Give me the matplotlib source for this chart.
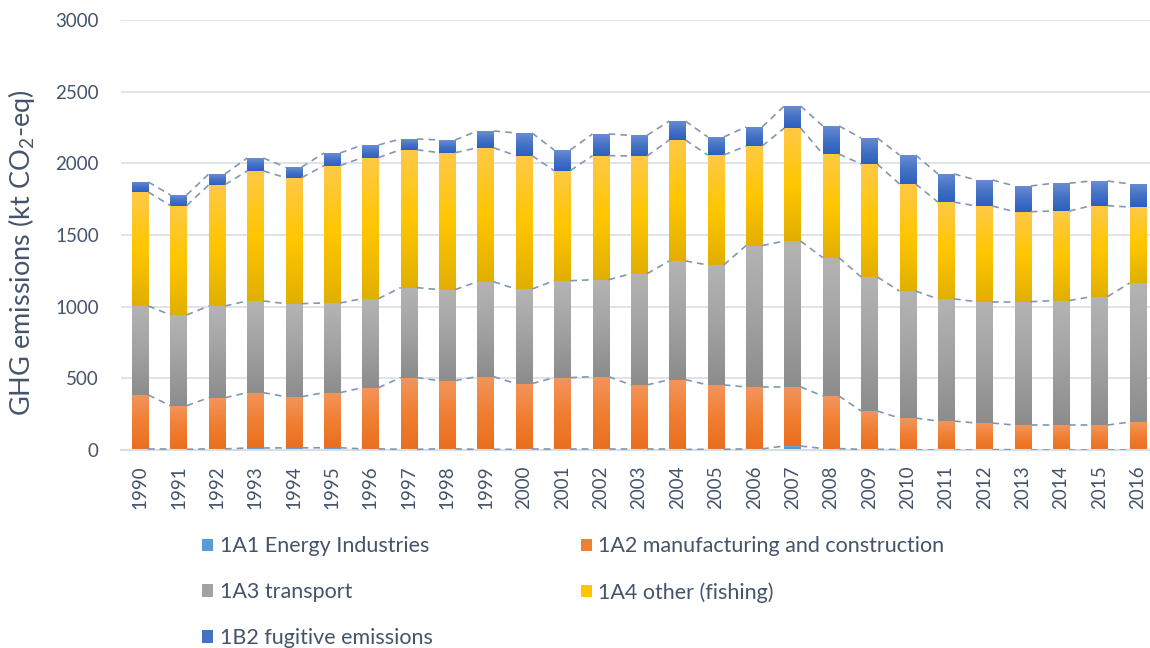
import matplotlib
matplotlib.use("Agg")
import matplotlib.pyplot as plt
from matplotlib.colors import LinearSegmentedColormap
import numpy as np

plt.rcParams['font.family'] = ['Lato', 'DejaVu Sans']
plt.rcParams['mathtext.fontset'] = 'custom'
plt.rcParams['mathtext.rm'] = 'Lato'

years = [str(y) for y in range(1990, 2017)]

energy_ind = [5, 5, 8, 14, 15, 16, 8, 5, 8, 5, 4, 4, 4, 4, 4, 5, 8, 28, 10, 5, 3, 3, 3, 2, 2, 2, 2]
manuf_constr = [379, 304, 357, 386, 357, 384, 427, 500, 476, 507, 459, 501, 508, 450, 487, 449,
                432, 412, 367, 267, 220, 199, 185, 172, 172, 172, 193]
transport = [621, 633, 640, 640, 649, 626, 621, 628, 635, 662, 660, 676, 676, 776, 828, 837,
             986, 1018, 965, 935, 886, 852, 847, 861, 868, 896, 970]
fishing = [795, 763, 846, 907, 879, 958, 984, 962, 955, 935, 931, 768, 866, 821, 844, 767,
           695, 789, 723, 788, 747, 676, 667, 628, 625, 635, 530]
fugitive = [70, 74, 75, 90, 74, 88, 88, 75, 89, 117, 158, 144, 151, 144, 132, 126,
            133, 153, 196, 182, 202, 196, 182, 179, 194, 172, 161]

labels = ['1A1 Energy Industries', '1A2 manufacturing and construction', '1A3 transport',
          '1A4 other (fishing)', '1B2 fugitive emissions']
series = [energy_ind, manuf_constr, transport, fishing, fugitive]
# (bottom, middle, top) colours of the gradient fill
grads = [('#4A8AD0', '#5B9BD5', '#86B4E2'),
         ('#EA6E1E', '#F07F33', '#F3955C'),
         ('#8C8C8C', '#A2A2A2', '#B4B4B4'),
         ('#E1AF00', '#FFC600', '#FFC947'),
         ('#2C5FBF', '#4472C4', '#6A8CD5')]

text_col = '#44546A'
line_col = '#8497B0'

fig = plt.figure(figsize=(11.5, 6.48), dpi=100)
ax = fig.add_axes([121 / 1150, 198 / 648, 1036 / 1150, 430 / 648])

x = np.arange(len(years))
width = 0.42
bottom = np.zeros(len(years))
handles = []
tops = []
grad_img = np.linspace(0, 1, 128).reshape(-1, 1)
for vals, lab, g in zip(series, labels, grads):
    vals = np.array(vals, dtype=float)
    bars = ax.bar(x, vals, width, bottom=bottom, color=g[1], label=lab, zorder=2, linewidth=0)
    cmap = LinearSegmentedColormap.from_list(lab, list(g))
    for r in bars:
        x0, y0 = r.get_x(), r.get_y()
        im = ax.imshow(grad_img, extent=[x0, x0 + r.get_width(), y0, y0 + r.get_height()],
                       aspect='auto', cmap=cmap, origin='lower', zorder=2.1,
                       interpolation='bilinear')
        im.set_clip_path(r)
    handles.append(bars)
    bottom = bottom + vals
    tops.append(bottom.copy())

# series lines between stacked segments
for t in tops:
    for i in range(len(years) - 1):
        ax.plot([x[i] + width / 2, x[i + 1] - width / 2], [t[i], t[i + 1]],
                color=line_col, lw=1.2, ls=(0, (4, 3)), zorder=3)

ax.set_xlim(-0.5, len(years) - 0.5)
ax.set_ylim(0, 3000)
ax.set_yticks(range(0, 3001, 500))
ax.set_xticks(x)
ax.set_xticklabels(years, rotation=90)
ax.grid(axis='y', color='#DDE1E6', lw=1.3, zorder=0)
ax.set_axisbelow(True)
for s in ['top', 'right', 'left']:
    ax.spines[s].set_visible(False)
ax.spines['bottom'].set_color('#D9DEE4')
ax.spines['bottom'].set_linewidth(1.5)
ax.tick_params(axis='both', length=0, labelsize=13.5, labelcolor=text_col)
ax.tick_params(axis='y', pad=16)
ax.tick_params(axis='x', pad=11)

ax.set_ylabel('GHG emissions (kt CO$_2$-eq)', fontsize=19.5, color=text_col)
ax.yaxis.set_label_coords(-84 / 1036, 0.458)

order = [0, 2, 4, 1, 3]
fig.legend([handles[i] for i in order], [labels[i] for i in order], ncol=2,
           loc='upper left', bbox_to_anchor=(183 / 1150, 1 - 517 / 648), frameon=False,
           fontsize=15.5, labelcolor=text_col, handlelength=0.5, handleheight=0.5,
           handletextpad=0.3, columnspacing=6.9, labelspacing=1.2)

fig.savefig('out.png', dpi=100)
